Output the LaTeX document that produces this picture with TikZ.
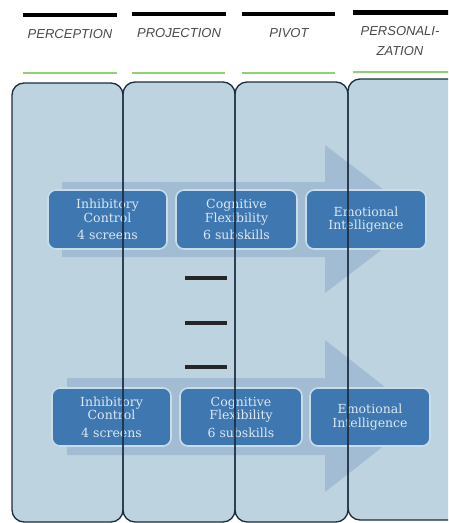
\documentclass[tikz,border=0pt]{standalone}
\usepackage{fontspec}
\setmainfont{Liberation Sans}
\newfontfamily\boxfont{DejaVu Serif}
\definecolor{colfill}{HTML}{BDD3DF}
\definecolor{colline}{HTML}{1B2D3E}
\definecolor{arrowfill}{HTML}{A2BCD3}
\definecolor{boxfill}{HTML}{3F78B1}
\definecolor{boxline}{HTML}{C9DCEA}
\definecolor{boxtext}{HTML}{DCE7F1}
\definecolor{greenbar}{HTML}{90D273}
\definecolor{titlegray}{HTML}{4A4A4A}
\tikzset{
  colbox/.style={fill=colfill, draw=none, rounded corners=12pt},
  colborder/.style={draw=colline, line width=1.3pt, rounded corners=12pt},
  bigarrow/.style={fill=arrowfill, draw=none},
  skillbox/.style={fill=boxfill, draw=boxline, line width=1.6pt, rounded corners=8pt,
    text=boxtext, font=\boxfont\fontsize{12.5}{13.5}\selectfont, align=center, inner sep=0pt},
  blackbar/.style={line width=4.5pt, draw=black},
  greenline/.style={line width=2pt, draw=greenbar},
  title/.style={font=\fontsize{13}{20}\selectfont\itshape, text=titlegray, align=center, inner sep=0pt},
  dashmark/.style={line width=4pt, draw=black!85},
}
\begin{document}
\begin{tikzpicture}[x=1pt,y=-1pt]
\useasboundingbox (0,0) rectangle (448,523);
\fill[white] (0,0) rectangle (448,523);
\clip (0,0) rectangle (448,523);
% top bars
\draw[blackbar] (23,15) -- (117,15);
\draw[blackbar] (132,14) -- (226,14);
\draw[blackbar] (242,14) -- (335,14);
\draw[blackbar] (353,12.5) -- (460,12.5);
% titles
\node[title] (t1) at (70,34) {PERCEPTION};
\node[title] (t2) at (179,33) {PROJECTION};
\node[title] (t3) at (289,33) {PIVOT};
\node[title] (t4) at (400,41) {PERSONALI-\\ZATION};
% green lines
\draw[greenline] (23,73) -- (117,73);
\draw[greenline] (132,72.5) -- (225,72.5);
\draw[greenline] (242,72.5) -- (335,72.5);
\draw[greenline] (353,72) -- (460,72);
% column fills
\fill[colbox] (12,83) rectangle (123,522);
\fill[colbox] (123,82) rectangle (235,522);
\fill[colbox] (235,82) rectangle (348,522);
\fill[colbox] (348,79) rectangle (470,520);
% arrows
\fill[bigarrow] (62,182) -- (325,182) -- (325,145) -- (422,219) -- (325,293) -- (325,257) -- (62,257) -- cycle;
\fill[bigarrow] (67,378) -- (325,378) -- (325,340) -- (422,416) -- (325,492) -- (325,455) -- (67,455) -- cycle;
% row 1 boxes
\node[skillbox, minimum width=119pt, minimum height=59pt] (a1) at (107.5,219.5) {Inhibitory\\Control\\[4pt]4 screens};
\node[skillbox, minimum width=121pt, minimum height=59pt] (a2) at (236.5,219.5) {Cognitive\\Flexibility\\[4pt]6 subskills};
\node[skillbox, minimum width=120pt, minimum height=59pt] (a3) at (366,219.5) {Emotional\\Intelligence};
% row 2 boxes
\node[skillbox, minimum width=119pt, minimum height=58pt] (b1) at (111.5,417) {Inhibitory\\Control\\[4pt]4 screens};
\node[skillbox, minimum width=122pt, minimum height=58pt] (b2) at (241,417) {Cognitive\\Flexibility\\[4pt]6 subskills};
\node[skillbox, minimum width=120pt, minimum height=58pt] (b3) at (370,417) {Emotional\\Intelligence};
% dashes
\draw[dashmark] (185,278) -- (227,278);
\draw[dashmark] (185,322.5) -- (227,322.5);
\draw[dashmark] (185,367) -- (227,367);
% column borders
\draw[colborder] (12,83) rectangle (123,522);
\draw[colborder] (123,82) rectangle (235,522);
\draw[colborder] (235,82) rectangle (348,522);
\draw[colborder] (348,79) rectangle (470,520);
\end{tikzpicture}
\end{document}
